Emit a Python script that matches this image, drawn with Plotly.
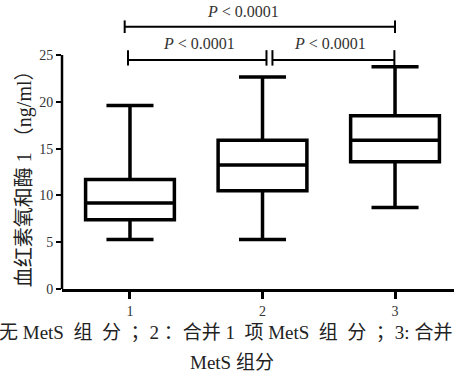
import plotly.graph_objects as go

groups = [1, 2, 3]
lower_whisker = [5.3, 5.3, 8.7]
q1 = [7.4, 10.5, 13.6]
median = [9.2, 13.25, 15.9]
q3 = [11.7, 15.9, 18.5]
upper_whisker = [19.6, 22.65, 23.75]

y_ticks = [0, 5, 10, 15, 20, 25]
x_ticks = [1, 2, 3]

p_label = "<i>P</i> < 0.0001"

serif = "Liberation Serif, Times New Roman, Noto Sans CJK SC"

fig = go.Figure()
for i, g in enumerate(groups):
    fig.add_trace(go.Box(
        x=[g], q1=[q1[i]], median=[median[i]], q3=[q3[i]],
        lowerfence=[lower_whisker[i]], upperfence=[upper_whisker[i]],
        width=0.67, whiskerwidth=0.53,
        line=dict(color="black", width=3.5),
        fillcolor="white", boxpoints=False, showlegend=False,
        hoverinfo="skip",
    ))

# (x start, x end, bracket level, tick below, tick above, label x, label y)
brackets = [
    (0.96, 3.0, 28.02, 0.67, 0.68, 1.853, 29.6),
    (0.985, 2.03, 24.47, 0.6, 1.05, 1.52, 26.2),
    (2.075, 2.995, 24.47, 0.6, 1.05, 2.51, 26.2),
]

shapes = []
shapes.append(dict(type="line", xref="paper", yref="y", x0=0, x1=0, y0=0, y1=25,
                   line=dict(color="black", width=2.5)))
annotations = []
for xa, xb, lvl, hb, ha, lx, ly in brackets:
    shapes.append(dict(type="line", xref="x", yref="y", x0=xa, x1=xb, y0=lvl, y1=lvl,
                       line=dict(color="black", width=2)))
    for xx in (xa, xb):
        shapes.append(dict(type="line", xref="x", yref="y", x0=xx, x1=xx,
                           y0=lvl - hb, y1=lvl + ha, line=dict(color="black", width=2)))
    annotations.append(dict(x=lx, y=ly, xref="x", yref="y", text=p_label,
                            showarrow=False, font=dict(family=serif, size=16, color="#333")))

nb = "\u00a0"
annotations.append(dict(x=-0.094, y=0.398, xref="paper", yref="paper",
                        xanchor="center", yanchor="middle",
                        text="血红素氧和酶 1" + nb + "（ng/ml）", textangle=-90, showarrow=False,
                        font=dict(family=serif, size=20, color="#222")))
line1 = ("无" + nb + "MetS" + nb * 2 + "组" + nb * 2 + "分" + nb * 2 + "；2" + nb
         + "：合并" + nb + "1" + nb * 2 + "项" + nb + "MetS" + nb * 2 + "组" + nb * 2
         + "分" + nb * 2 + "；3:" + nb + "合并")
annotations.append(dict(x=1.0, y=-0.149, xref="paper", yref="paper",
                        xanchor="right", yanchor="middle",
                        text=line1, showarrow=False,
                        font=dict(family=serif, size=19, color="#222")))
annotations.append(dict(x=0.434, y=-0.253, xref="paper", yref="paper",
                        xanchor="center", yanchor="middle",
                        text="MetS 组分", showarrow=False,
                        font=dict(family=serif, size=19, color="#222")))

fig.update_layout(
    width=454, height=391,
    margin=dict(l=62, r=0, t=0, b=102),
    paper_bgcolor="white", plot_bgcolor="white",
    shapes=shapes, annotations=annotations,
    xaxis=dict(range=[0.487, 3.445], tickvals=x_ticks, ticks="outside", ticklen=7,
               tickwidth=2.5, tickcolor="black", showline=True, linecolor="black",
               linewidth=2.5, showgrid=False, zeroline=False,
               tickfont=dict(family=serif, size=14, color="#333")),
    yaxis=dict(range=[0, 30.88], tickvals=y_ticks, ticks="outside", ticklen=5,
               tickwidth=2, tickcolor="black", showline=False, showgrid=False,
               zeroline=False, tickfont=dict(family=serif, size=14, color="#333")),
)
fig.write_html("out.html", config={"displayModeBar": False},
               post_script="document.body.style.margin='0';document.body.style.overflow='hidden';")
